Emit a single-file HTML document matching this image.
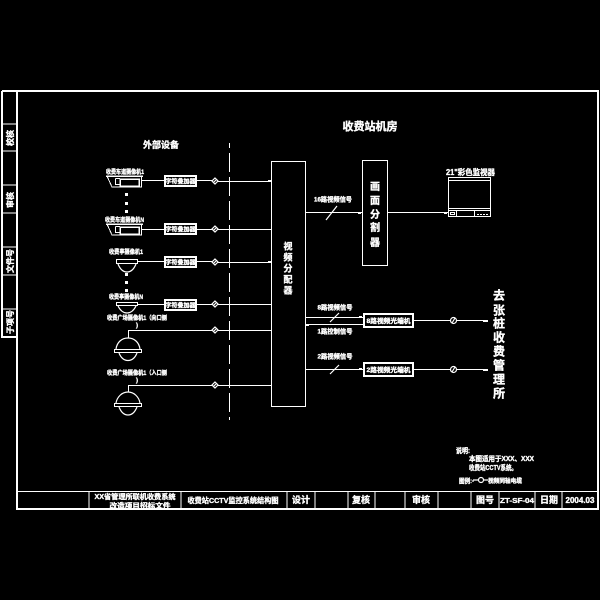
<!DOCTYPE html>
<html><head><meta charset="utf-8"><style>
html,body{margin:0;padding:0;background:#000;width:600px;height:600px;overflow:hidden}
svg{display:block}
text{fill:#fff;stroke:#fff;stroke-width:.35;font-family:"Liberation Sans","Noto Sans CJK SC",sans-serif;font-weight:bold}
.l{fill:none;stroke:#fff;stroke-width:1;shape-rendering:crispEdges}
.t{fill:none;stroke:#fff;stroke-width:2;shape-rendering:crispEdges}
.c{fill:none;stroke:#fff;stroke-width:1.2}
.d{fill:#fff}
</style></head><body>
<svg width="600" height="600" viewBox="0 0 600 600" xmlns="http://www.w3.org/2000/svg">
<!-- frame -->
<path class="t" d="M17 91H598V509H17ZM2 91H17M2 91V337H17"/>
<path class="l" d="M17 491.500H598"/>
<path class="l" d="M2 124H17M2 151H17M2 185H17M2 213H17M2 247H17M2 275H17M2 309H17"/>
<path class="l" d="M89 491V509M181 491V509M287 491V509M315 491V509M348 491V509M375 491V509M405 491V509M438 491V509M471 491V509M499 491V509M535 491V509M562 491V509"/>
<g font-size="8">
<text transform="translate(13,138) rotate(-90)" text-anchor="middle">校核</text>
<text transform="translate(13,200) rotate(-90)" text-anchor="middle">审核</text>
<text transform="translate(13,261) rotate(-90)" text-anchor="middle">文件号</text>
<text transform="translate(13,322) rotate(-90)" text-anchor="middle">子项号</text>
</g>
<!-- title block text -->
<g text-anchor="middle">
<text x="135" y="499" font-size="7" textLength="81" lengthAdjust="spacingAndGlyphs">XX省管理所联机收费系统</text>
<text x="140" y="508" font-size="7" textLength="61" lengthAdjust="spacingAndGlyphs">改造项目招标文件</text>
<text x="233" y="503" font-size="7.500" textLength="91" lengthAdjust="spacingAndGlyphs">收费站CCTV监控系统结构图</text>
<text x="301" y="503" font-size="9">设计</text>
<text x="361" y="503" font-size="9">复核</text>
<text x="421" y="503" font-size="9">审核</text>
<text x="485" y="503" font-size="9">图号</text>
<text x="517" y="503" font-size="7" textLength="34" lengthAdjust="spacingAndGlyphs">ZT-SF-04</text>
<text x="549" y="503" font-size="9">日期</text>
<text x="580" y="503" font-size="8">2004.03</text>
</g>
<!-- headings -->
<text x="161" y="148" font-size="9" text-anchor="middle">外部设备</text>
<text x="370" y="130" font-size="11" text-anchor="middle">收费站机房</text>
<!-- dashed -->
<path class="l" d="M229.500 143V420" stroke-dasharray="19 5" stroke-dashoffset="14"/>
<!-- main boxes -->
<rect class="l" x="271.500" y="161.500" width="34" height="245"/>
<rect class="l" x="362.500" y="160.500" width="25" height="105"/>
<g font-size="9" text-anchor="middle">
<text x="288" y="249.500">视</text><text x="288" y="260.500">频</text><text x="288" y="271.500">分</text><text x="288" y="282.500">配</text><text x="288" y="293.500">器</text>
</g>
<g font-size="10" text-anchor="middle">
<text x="375" y="190">画</text><text x="375" y="204">面</text><text x="375" y="218">分</text><text x="375" y="231">割</text><text x="375" y="246">器</text>
</g>
<!-- row 1 -->
<text x="125" y="174" font-size="6" text-anchor="middle" textLength="38" lengthAdjust="spacingAndGlyphs">收费车道摄像机1</text>
<path class="t" d="M106 176H143M120 179H139V186H120Z" style="stroke-width:1.500"/>
<path class="l" d="M107 176L112 187H141.500V176M115.500 178.500H120M115.500 178.500V184.500H120M142 180.500H164"/>
<rect class="t" x="165" y="176" width="31" height="10"/>
<text x="180.500" y="183.500" font-size="6" text-anchor="middle">字符叠加器</text>
<path class="l" d="M196 180.500H212M218 181.500H271M268 180.500H271"/>
<path class="c" d="M215 178L218 181L215 184L212 181ZM213 183L217 179"/>
<!-- dots -->
<path class="d" d="M125 193h3v3h-3zM125 202h3v3h-3zM125 210h3v3h-3zM125 273h3v3h-3zM125 281h3v3h-3zM125 289h3v3h-3z"/>
<!-- row 2 -->
<text x="124.500" y="222" font-size="6" text-anchor="middle" textLength="39" lengthAdjust="spacingAndGlyphs">收费车道摄像机N</text>
<path class="t" d="M106 224H143M120 227H139V234H120Z" style="stroke-width:1.500"/>
<path class="l" d="M107 224L112 235H141.500V224M115.500 226.500H120M115.500 226.500V232.500H120M142 229.500H164"/>
<rect class="t" x="165" y="224" width="31" height="10"/>
<text x="180.500" y="231.500" font-size="6" text-anchor="middle">字符叠加器</text>
<path class="l" d="M196 229.500H212M218 229.500H271"/>
<path class="c" d="M215 226L218 229L215 232L212 229ZM213 231L217 227"/>
<!-- row 3 -->
<text x="126" y="254" font-size="6" text-anchor="middle" textLength="34" lengthAdjust="spacingAndGlyphs">收费亭摄像机1</text>
<path class="l" d="M116.500 259.500H137.500V263.500H116.500ZM137 261.500H164"/>
<path class="c" d="M118 264C120 269 123 272 127 272C131 272 134 269 136 264"/>
<rect class="t" x="165" y="257" width="31" height="10"/>
<text x="180.500" y="264.500" font-size="6" text-anchor="middle">字符叠加器</text>
<path class="l" d="M196 261.500H212M218 262.500H271M268 261.500H271"/>
<path class="c" d="M215 259L218 262L215 265L212 262ZM213 264L217 260"/>
<!-- row 4 -->
<text x="126" y="299" font-size="6" text-anchor="middle" textLength="34" lengthAdjust="spacingAndGlyphs">收费亭摄像机N</text>
<path class="l" d="M116.500 302.500H137.500V305.500H116.500ZM137 304.500H164"/>
<path class="c" d="M118 306C120 310 123 313 127 313C131 313 134 310 136 306"/>
<rect class="t" x="165" y="300" width="31" height="10"/>
<text x="180.500" y="307.500" font-size="6" text-anchor="middle">字符叠加器</text>
<path class="l" d="M196 304.500H212M218 304.500H271"/>
<path class="c" d="M215 301L218 304L215 307L212 304ZM213 306L217 302"/>
<!-- row 5 -->
<text x="107" y="320" font-size="6" textLength="60" lengthAdjust="spacingAndGlyphs">收费广场摄像机1（向口侧</text>
<text x="136" y="327" font-size="6">)</text>
<path class="l" d="M128.500 338V330.500H212M218 330.500H271"/>
<path class="c" d="M215 327L218 330L215 333L212 330ZM213 332L217 328"/>
<path class="c" d="M116 349C117 342 122 338 128 338C134 338 139 342 140 349M119 353C121 358 124 360.500 128 360.500C132 360.500 135 358 137 353"/>
<rect class="l" x="114.500" y="349.500" width="27" height="3"/>
<!-- row 6 -->
<text x="107" y="375" font-size="6" textLength="60" lengthAdjust="spacingAndGlyphs">收费广场摄像机1（入口侧</text>
<text x="136" y="382" font-size="6">)</text>
<path class="l" d="M128.500 392V385.500H212M218 385.500H271"/>
<path class="c" d="M215 382L218 385L215 388L212 385ZM213 387L217 383"/>
<path class="c" d="M116 403C117 397 122 392 128 392C134 392 139 397 140 403M119 407C121 412 124 415 128 415C132 415 135 412 137 407"/>
<rect class="l" x="114.500" y="403.500" width="27" height="3"/>
<!-- video to splitter -->
<path class="l" d="M305 212.500H362M388 212.500H448M358 213.500H361M444 213.500H447"/>
<path class="c" d="M326 220L337 206"/>
<text x="333" y="201.500" font-size="6.500" text-anchor="middle" textLength="38" lengthAdjust="spacingAndGlyphs">16路视频信号</text>
<!-- monitor -->
<text x="470.500" y="175" font-size="8" text-anchor="middle" textLength="49" lengthAdjust="spacingAndGlyphs">21"彩色监视器</text>
<rect class="l" x="448.500" y="177.500" width="42" height="39"/>
<path class="l" d="M448 180.500H491M448 208.500H491M448 210.500H491M456.500 211V216M474.500 211V216"/>
<rect class="l" x="450.500" y="212.500" width="4" height="2"/>
<path class="l" d="M477 214.500H488" stroke-dasharray="2 1"/>
<!-- lower signals -->
<text x="335" y="309.500" font-size="6.500" text-anchor="middle" textLength="35" lengthAdjust="spacingAndGlyphs">8路视频信号</text>
<text x="335" y="333.500" font-size="6.500" text-anchor="middle" textLength="35" lengthAdjust="spacingAndGlyphs">1路控制信号</text>
<text x="335" y="358.500" font-size="6.500" text-anchor="middle" textLength="35" lengthAdjust="spacingAndGlyphs">2路视频信号</text>
<path class="l" d="M305 317.500H363M305 324.500H363M305 369.500H363M413 320.500H450M457 320.500H488M413 369.500H450M457 369.500H488M306 325.500H309M359 316.500H362M359 368.500H362M483 321.500H488M483 370.500H488"/>
<path class="c" d="M330 322L339 313M330 374L339 365"/>
<rect class="t" x="364" y="314" width="49" height="13"/>
<rect class="t" x="364" y="363" width="49" height="13"/>
<text x="388.500" y="323" font-size="6.500" text-anchor="middle" textLength="44" lengthAdjust="spacingAndGlyphs">8路视频光端机</text>
<text x="388.500" y="372" font-size="6.500" text-anchor="middle" textLength="44" lengthAdjust="spacingAndGlyphs">2路视频光端机</text>
<circle class="c" cx="453.500" cy="320.500" r="3"/>
<circle class="c" cx="453.500" cy="369.500" r="3"/>
<path class="c" d="M452 323L455 318M452 372L455 367"/>
<g font-size="12" text-anchor="middle" style="font-weight:normal">
<text x="499" y="299.500">去</text><text x="499" y="314.500">张</text><text x="499" y="327.500">桩</text><text x="499" y="341.500">收</text><text x="499" y="355.500">费</text><text x="499" y="369.500">管</text><text x="499" y="383.500">理</text><text x="499" y="397.500">所</text>
</g>
<!-- notes -->
<text x="456" y="453" font-size="7" textLength="14" lengthAdjust="spacingAndGlyphs">说明:</text>
<text x="469" y="461" font-size="7" textLength="65" lengthAdjust="spacingAndGlyphs">本图适用于XXX、XXX</text>
<text x="469" y="470" font-size="7" textLength="48" lengthAdjust="spacingAndGlyphs">收费站CCTV系统。</text>
<text x="459" y="483" font-size="6.500" textLength="13" lengthAdjust="spacingAndGlyphs">图例:</text>
<path class="c" d="M473 480H478M484 480H488M473 480V482"/>
<circle class="c" cx="481" cy="480" r="2.500"/>
<text x="488" y="483" font-size="6" textLength="34" lengthAdjust="spacingAndGlyphs">视频同轴电缆</text>
</svg>
</body></html>
